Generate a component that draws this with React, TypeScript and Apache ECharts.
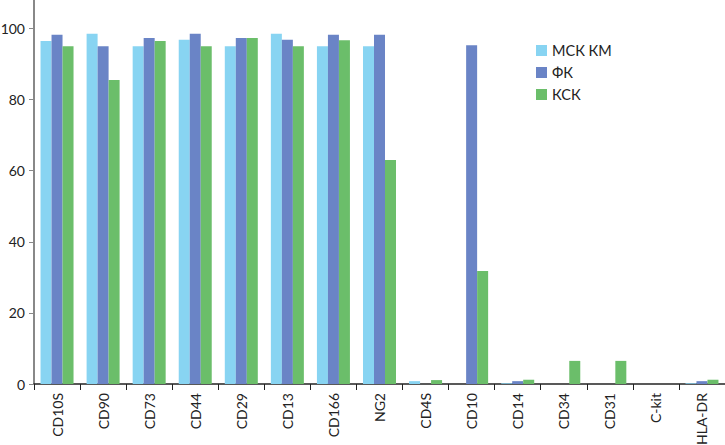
import React, { useEffect, useRef } from "react";
import * as echarts from "echarts";

const categories = ["CD10S", "CD90", "CD73", "CD44", "CD29", "CD13", "CD166", "NG2", "CD4S", "CD10", "CD14", "CD34", "CD31", "C-kit", "HLA-DR"];
const seriesNames = ["МСК КМ", "ФК", "КСК"];
const mskKm = [96.5, 98.5, 95, 96.8, 95, 98.5, 95, 95, 0.8, 0, 0.2, 0, 0, 0, 0.2];
const fk = [98.2, 95, 97.3, 98.5, 97.3, 96.8, 98.2, 98.2, 0, 95.3, 0.8, 0, 0, 0, 0.8];
const ksk = [95, 85.5, 96.5, 95, 97.3, 95, 96.7, 63, 1.1, 31.8, 1.2, 6.5, 6.5, 0, 1.2];
const yTicks = [0, 20, 40, 60, 80, 100];
const colors = ["#88d4f2", "#6a84c6", "#6bbe6a"];

const FONT = "Lato, 'Noto Sans', sans-serif";

export default function App() {
  const ref = useRef<HTMLDivElement>(null);
  useEffect(() => {
    if (!ref.current) return;
    const chart = echarts.init(ref.current, undefined, { renderer: "svg" });
    const data = [mskKm, fk, ksk];
    chart.setOption({
      animation: false,
      color: colors,
      textStyle: { fontFamily: FONT },
      legend: {
        orient: "vertical",
        left: 531,
        top: 38,
        itemWidth: 11,
        itemHeight: 11,
        itemGap: 7,
        icon: "rect",
        textStyle: { fontFamily: FONT, fontSize: 14.5, color: "#222" },
        data: seriesNames,
      },
      grid: { left: 34, right: 0, top: 0, bottom: 61, containLabel: false, outerBoundsMode: "none" },
      xAxis: {
        type: "category",
        data: categories,
        axisLine: { lineStyle: { color: "#222", width: 1.5 } },
        axisTick: { show: true, length: 6, lineStyle: { color: "#222" } },
        axisLabel: { rotate: 90, fontSize: 14, color: "#222", margin: 9, fontFamily: FONT },
      },
      yAxis: {
        type: "value",
        min: 0,
        max: 108,
        interval: 20,
        splitLine: { show: false },
        axisLine: { show: true, lineStyle: { color: "#888", width: 2 } },
        axisTick: { show: true, length: 5, lineStyle: { color: "#888" } },
        axisLabel: {
          fontSize: 14,
          color: "#222",
          margin: 9,
          fontFamily: FONT,
          showMaxLabel: false,
          formatter: (v: number) => (yTicks.includes(v) ? String(v) : ""),
        },
      },
      series: seriesNames.map((name, i) => ({
        name,
        type: "bar",
        data: data[i],
        barWidth: 11,
        barGap: "0%",
        itemStyle: { color: colors[i] },
      })),
    });
    return () => chart.dispose();
  }, []);
  return <div ref={ref} style={{ width: 725, height: 445, position: "absolute", left: 0, top: 0 }} />;
}
